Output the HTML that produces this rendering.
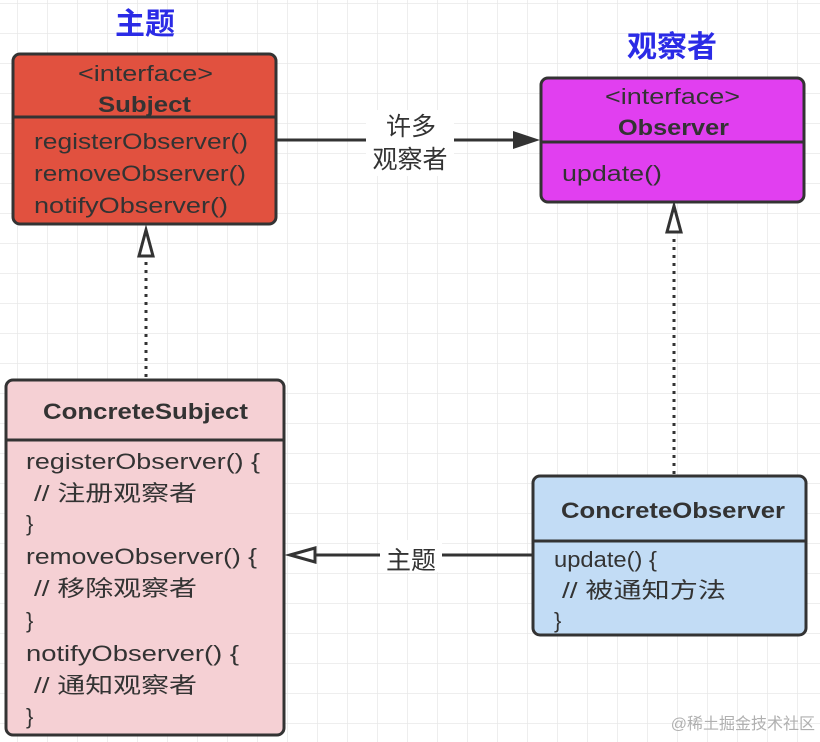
<!DOCTYPE html>
<html><head><meta charset="utf-8"><style>
html,body{margin:0;padding:0;background:#fff}
svg{display:block}
text{font-family:"Liberation Sans","Noto Sans CJK SC",sans-serif;fill:#333}
</style></head><body>
<svg width="820" height="742" viewBox="0 0 820 742" xmlns="http://www.w3.org/2000/svg">
<defs>
<pattern id="g" x="17" y="3" width="30" height="30" patternUnits="userSpaceOnUse">
<path d="M0 0H30M0 0V30" stroke="#e8e8e8" stroke-width="1.5" fill="none"/>
</pattern>
</defs>
<rect width="820" height="742" fill="url(#g)"/>

<text x="145" y="34" text-anchor="middle" font-size="30" font-weight="bold" style="fill:#2b2be6">主题</text>
<text x="672" y="57" text-anchor="middle" font-size="30" font-weight="bold" style="fill:#2b2be6">观察者</text>

<!-- Subject -->
<rect x="13" y="54" width="263" height="170" rx="7" fill="#e1513f" stroke="#333" stroke-width="3"/>
<line x1="13" y1="117" x2="276" y2="117" stroke="#333" stroke-width="3"/>
<text x="78" y="81" font-size="22" textLength="135" lengthAdjust="spacingAndGlyphs">&lt;interface&gt;</text>
<text x="98" y="112" font-size="22" font-weight="bold" textLength="93" lengthAdjust="spacingAndGlyphs">Subject</text>
<text x="34" y="149" font-size="22" textLength="214" lengthAdjust="spacingAndGlyphs">registerObserver()</text>
<text x="34" y="181" font-size="22" textLength="212" lengthAdjust="spacingAndGlyphs">removeObserver()</text>
<text x="34" y="213" font-size="22" textLength="194" lengthAdjust="spacingAndGlyphs">notifyObserver()</text>

<!-- Observer -->
<rect x="541" y="78" width="263" height="124" rx="7" fill="#e13ff0" stroke="#333" stroke-width="3"/>
<line x1="541" y1="142" x2="804" y2="142" stroke="#333" stroke-width="3"/>
<text x="605" y="104" font-size="22" textLength="135" lengthAdjust="spacingAndGlyphs">&lt;interface&gt;</text>
<text x="618" y="135" font-size="22" font-weight="bold" textLength="111" lengthAdjust="spacingAndGlyphs">Observer</text>
<text x="562" y="181" font-size="22" textLength="100" lengthAdjust="spacingAndGlyphs">update()</text>

<!-- association arrow -->
<line x1="276" y1="140" x2="515" y2="140" stroke="#333" stroke-width="3"/>
<polygon points="540,140 513,131 513,149" fill="#333"/>
<rect x="366" y="110" width="88" height="66" fill="#fff"/>
<text x="411" y="135" text-anchor="middle" font-size="25">许多</text>
<text x="410" y="168" text-anchor="middle" font-size="25">观察者</text>

<!-- dotted realization lines -->
<line x1="146" y1="377" x2="146" y2="258" stroke="#333" stroke-width="3" stroke-dasharray="3,5"/>
<polygon points="146,230 139,256 153,256" fill="#fff" stroke="#333" stroke-width="3"/>
<line x1="674" y1="474" x2="674" y2="234" stroke="#333" stroke-width="3" stroke-dasharray="3,5"/>
<polygon points="674,206 667,232 681,232" fill="#fff" stroke="#333" stroke-width="3"/>

<!-- ConcreteSubject -->
<rect x="6" y="380" width="278" height="355" rx="7" fill="#f5d0d4" stroke="#333" stroke-width="3"/>
<line x1="6" y1="440" x2="284" y2="440" stroke="#333" stroke-width="3"/>
<text x="43" y="419" font-size="22" font-weight="bold" textLength="205" lengthAdjust="spacingAndGlyphs">ConcreteSubject</text>
<g font-size="22">
<text x="26" y="469" textLength="234" lengthAdjust="spacingAndGlyphs">registerObserver() {</text>
<text x="34" y="501" textLength="163" lengthAdjust="spacingAndGlyphs">// 注册观察者</text>
<text x="26" y="531">}</text>
<text x="26" y="564" textLength="231" lengthAdjust="spacingAndGlyphs">removeObserver() {</text>
<text x="34" y="596" textLength="163" lengthAdjust="spacingAndGlyphs">// 移除观察者</text>
<text x="26" y="628">}</text>
<text x="26" y="661" textLength="213" lengthAdjust="spacingAndGlyphs">notifyObserver() {</text>
<text x="34" y="693" textLength="163" lengthAdjust="spacingAndGlyphs">// 通知观察者</text>
<text x="26" y="724">}</text>
</g>

<!-- ConcreteObserver -->
<rect x="533" y="476" width="273" height="159" rx="7" fill="#c2dcf5" stroke="#333" stroke-width="3"/>
<line x1="533" y1="541" x2="806" y2="541" stroke="#333" stroke-width="3"/>
<text x="561" y="518" font-size="22" font-weight="bold" textLength="224" lengthAdjust="spacingAndGlyphs">ConcreteObserver</text>
<text x="554" y="567" font-size="22" textLength="103" lengthAdjust="spacingAndGlyphs">update() {</text>
<text x="562" y="598" font-size="22" textLength="164" lengthAdjust="spacingAndGlyphs">// 被通知方法</text>
<text x="554" y="628" font-size="22">}</text>

<!-- dependency arrow -->
<line x1="533" y1="555" x2="315" y2="555" stroke="#333" stroke-width="3"/>
<polygon points="290,555 315,548 315,562" fill="#fff" stroke="#333" stroke-width="3"/>
<rect x="380" y="540" width="62" height="32" fill="#fff"/>
<text x="411" y="569" text-anchor="middle" font-size="25">主题</text>

<text x="815" y="729" text-anchor="end" font-size="16" style="fill:#b0b0b0">@稀土掘金技术社区</text>
</svg>
</body></html>
